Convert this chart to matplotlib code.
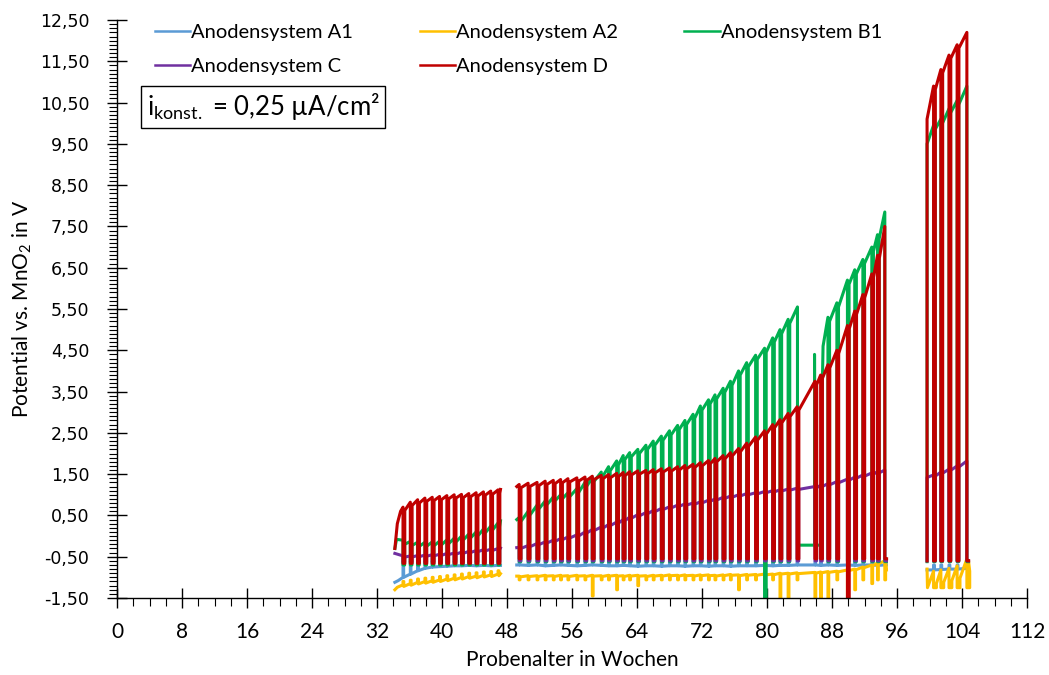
import numpy as np
import matplotlib
matplotlib.use("Agg")
import matplotlib.pyplot as plt
from matplotlib.ticker import MultipleLocator, FixedLocator, FuncFormatter

plt.rcParams["font.family"] = ["Lato", "DejaVu Sans"]
plt.rcParams["mathtext.default"] = "regular"

# ---------------------------------------------------------------- data
series_names = ["Anodensystem A1", "Anodensystem A2", "Anodensystem B1",
                "Anodensystem C", "Anodensystem D"]
series_colors = ["#5B9BD5", "#FFC000", "#00B050", "#7030A0", "#C00000"]

x_ticks = list(range(0, 113, 8))
y_ticks = [-1.5, -0.5, 0.5, 1.5, 2.5, 3.5, 4.5, 5.5, 6.5, 7.5, 8.5, 9.5,
           10.5, 11.5, 12.5]

# weeks at which the constant current was interrupted (one block per run)
drops_1 = [35.2, 36.1, 37.0, 37.9, 38.8, 39.7, 40.6, 41.5, 42.4, 43.3, 44.2,
           45.1, 46.0, 46.9]
drops_2 = [49.5, 50.6, 51.7, 52.7, 53.7, 54.6, 55.5, 56.6, 57.6, 58.5,
           59.6, 60.5, 61.5, 62.3, 63.1, 64.1, 65.1, 66.0, 67.0, 68.0,
           69.0, 69.9, 70.9, 71.8, 72.8, 73.6, 74.6, 75.5, 76.5, 77.5,
           78.6, 79.7, 80.7, 81.6, 82.6, 83.7, 85.9, 86.6, 87.5, 88.6,
           89.9, 90.8, 91.8, 92.9, 93.6, 94.5]
drops_3 = [100.5, 101.4, 102.4, 103.4, 104.6]

# potential (V) reached just before each interruption
d_peaks_1 = [0.70, 0.82, 0.88, 0.92, 0.94, 0.96, 0.98, 1.00, 1.01, 1.03,
             1.05, 1.07, 1.09, 1.12]
d_peaks_2 = [1.25, 1.28, 1.30, 1.33, 1.35, 1.37, 1.39, 1.41, 1.43, 1.45,
             1.47, 1.49, 1.52, 1.54, 1.56, 1.58, 1.59, 1.61, 1.63, 1.65,
             1.68, 1.71, 1.74, 1.78, 1.83, 1.88, 1.95, 2.02, 2.12, 2.25,
             2.40, 2.55, 2.70, 2.82, 2.97, 3.13, 3.75, 3.90, 4.15, 4.50,
             5.10, 5.45, 5.85, 6.35, 6.80, 7.50]
d_peaks_3 = [10.90, 11.30, 11.65, 11.90, 12.20]

b1_peaks_1 = [-0.10, -0.13, -0.15, -0.15, -0.14, -0.12, -0.09, -0.05, 0.00,
              0.05, 0.10, 0.17, 0.24, 0.32]
b1_peaks_2a = [0.45, 0.60, 0.75, 0.85, 0.95, 1.00, 1.05, 1.15, 1.30, 1.42,
               1.55, 1.68, 1.82, 1.95, 2.02, 2.10, 2.20, 2.30, 2.42, 2.55,
               2.68, 2.80, 2.95, 3.15, 3.30, 3.42, 3.58, 3.75, 4.00, 4.20,
               4.38, 4.55, 4.80, 5.00, 5.25]
b1_peaks_2b = [5.30, 5.65, 6.20, 6.45, 6.70, 7.00, 7.30, 7.85]
b1_peaks_3 = [9.95, 10.10, 10.35, 10.55, 10.90]

c_peaks_1 = [-0.48, -0.48, -0.47, -0.46, -0.45, -0.44, -0.42, -0.41, -0.39,
             -0.37, -0.35, -0.33, -0.32, -0.30]
c_peaks_2 = [-0.27, -0.23, -0.18, -0.14, -0.10, -0.06, -0.02, 0.03, 0.10,
             0.16, 0.22, 0.28, 0.34, 0.40, 0.46, 0.52, 0.57, 0.62, 0.67,
             0.71, 0.75, 0.78, 0.80, 0.83, 0.87, 0.90, 0.94, 0.97, 1.00,
             1.03, 1.05, 1.08, 1.10, 1.12, 1.14, 1.16, 1.20, 1.23, 1.27,
             1.32, 1.38, 1.43, 1.48, 1.53, 1.56, 1.60]
c_peaks_3 = [1.48, 1.55, 1.62, 1.70, 1.82]

a1_peaks_1 = [-1.00, -0.92, -0.84, -0.78, -0.75, -0.74, -0.73, -0.72, -0.72,
              -0.71, -0.72, -0.71, -0.72, -0.71]
a1_peaks_2 = [-0.70, -0.71, -0.70, -0.72, -0.71, -0.70, -0.71, -0.72, -0.71,
              -0.70, -0.71, -0.72, -0.72, -0.71, -0.72, -0.73, -0.72, -0.72,
              -0.73, -0.72, -0.72, -0.73, -0.72, -0.72, -0.73, -0.72, -0.72,
              -0.73, -0.72, -0.72, -0.72, -0.71, -0.72, -0.71, -0.71, -0.70,
              -0.70, -0.71, -0.70, -0.71, -0.70, -0.71, -0.70, -0.70, -0.71,
              -0.70]
a1_peaks_3 = [-0.82, -0.81, -0.80, -0.80, -0.78]

a2_peaks_1 = [-1.18, -1.15, -1.12, -1.10, -1.08, -1.06, -1.04, -1.02, -1.00,
              -0.98, -0.97, -0.95, -0.94, -0.92]
a2_lows_1 = [-1.10, -1.07, -1.04, -1.02, -1.00, -0.98, -0.96, -0.94, -0.92,
             -0.90, -0.89, -0.87, -0.86, -0.84]
a2_peaks_2 = [-0.97, -0.96, -0.96, -0.95, -0.96, -0.95, -0.96, -0.95, -0.96,
              -0.95, -0.96, -0.95, -0.95, -0.96, -0.95, -0.95, -0.96, -0.95,
              -0.95, -0.94, -0.95, -0.94, -0.95, -0.94, -0.94, -0.95, -0.94,
              -0.93, -0.94, -0.93, -0.93, -0.92, -0.92, -0.90, -0.90, -0.89,
              -0.88, -0.87, -0.86, -0.85, -0.82, -0.80, -0.75, -0.70, -0.65,
              -0.60]
a2_peaks_3 = [-0.85, -0.82, -0.78, -0.72, -0.55]

# interruptions where the potential fell further than usual
a2_deep_2 = {58.5: -1.45, 61.5: -1.30, 64.1: -1.20, 76.5: -1.30, 79.7: -1.25,
             81.6: -1.50, 82.6: -1.50, 85.9: -1.50, 86.6: -1.50, 87.5: -1.50,
             89.9: -1.50, 90.8: -1.30, 92.9: -1.15}
b1_deep_2 = {79.7: -1.50}
d_deep_2 = {89.9: -1.50}


# ---------------------------------------------------------------- helpers
def trace(lead, drops, peaks, tail, low, dip, width, deep=None):
    """Polyline of one run: lead-in points, then for every interruption the
    fall to the rest potential and the return once the current is back."""
    xs = [p[0] for p in lead]
    ys = [p[1] for p in lead]
    for i, (t, pk) in enumerate(zip(drops, peaks, strict=True)):
        lo = low[i] if isinstance(low, (list, tuple)) else low
        if deep and t in deep:
            lo = deep[t]
        xs += [t, t, t + width, t + width]
        ys += [pk, lo, lo, pk - dip]
    if tail is None:
        xs, ys = xs[:-1], ys[:-1]
    else:
        xs += [p[0] for p in tail]
        ys += [p[1] for p in tail]
    return xs, ys


def join(*runs):
    xs, ys = [], []
    for k, (rx, ry) in enumerate(runs):
        if k:
            xs.append(np.nan)
            ys.append(np.nan)
        xs += rx
        ys += ry
    return np.array(xs), np.array(ys)


def cat(*pieces):
    xs, ys = [], []
    for px, py in pieces:
        xs += px
        ys += py
    return xs, ys


a1 = join(
    trace([(34.2, -1.12), (34.6, -1.08)], drops_1, a1_peaks_1, [(47.2, -0.71)],
          -0.62, 0.0, 0.08),
    trace([(49.2, -0.70)], drops_2, a1_peaks_2, [(94.7, -0.70)],
          -0.63, 0.0, 0.08),
    trace([(99.7, -0.82)], drops_3, a1_peaks_3, [(104.8, -0.78)],
          -0.70, 0.0, 0.1),
)
a2 = join(
    trace([(34.2, -1.30), (34.5, -1.24)], drops_1, a2_peaks_1, [(47.2, -0.91)],
          a2_lows_1, 0.04, 0.1),
    trace([(49.2, -0.97)], drops_2, a2_peaks_2, [(94.7, -0.82)],
          -1.06, 0.02, 0.1, a2_deep_2),
    trace([(99.7, -0.80), (99.75, -1.25)], drops_3, a2_peaks_3, [(104.8, -0.6)],
          -1.25, 0.30, 0.35),
)
b1 = join(
    trace([(34.2, -0.30), (34.4, -0.08)], drops_1, b1_peaks_1, [(47.2, 0.37)],
          -0.70, 0.10, 0.2),
    cat(
        trace([(49.2, 0.40)], drops_2[:35], b1_peaks_2a,
              [(83.75, 5.55), (83.75, -0.22), (85.85, -0.22), (85.85, 4.40),
               (85.9, -0.22), (86.7, -0.22)],
              -0.62, 0.10, 0.2, b1_deep_2),
        trace([(86.75, 3.05), (86.9, 4.60)], drops_2[38:], b1_peaks_2b, None,
              -0.62, 0.10, 0.2),
    ),
    trace([(99.7, -0.62), (99.7, 9.50)], drops_3, b1_peaks_3, None,
          -0.62, 0.10, 0.2),
)
c = join(
    trace([(34.2, -0.42)], drops_1, c_peaks_1, [(47.2, -0.29)],
          -0.62, 0.03, 0.2),
    trace([(49.2, -0.28)], drops_2, c_peaks_2, None, -0.60, 0.03, 0.2),
    trace([(99.7, -0.60), (99.7, 1.42)], drops_3, c_peaks_3, None,
          -0.60, 0.03, 0.2),
)
d = join(
    trace([(34.2, -0.30), (34.5, 0.30), (34.9, 0.60)], drops_1, d_peaks_1,
          [(47.2, 1.13)], -0.66, 0.08, 0.22),
    trace([(49.2, 1.20)], drops_2, d_peaks_2, None, -0.55, 0.08, 0.22,
          d_deep_2),
    trace([(99.7, -0.60), (99.7, 10.10)], drops_3, d_peaks_3, None,
          -0.60, 0.08, 0.22),
)
curves = [a1, a2, b1, c, d]

# ---------------------------------------------------------------- figure
W, H = 1049, 675
fig = plt.figure(figsize=(W / 100, H / 100), dpi=100)
ax = fig.add_axes([117 / W, 1 - 598 / H, (1027 - 117) / W, (598 - 20) / H])

handles = []
for (xs, ys), name, col in zip(curves, series_names, series_colors):
    (ln,) = ax.plot(xs, ys, color=col, lw=2.2, label=name)
    handles.append(ln)

ax.set_xlim(0, 112)
ax.set_ylim(-1.5, 12.5)
for s in ("top", "right"):
    ax.spines[s].set_visible(False)
for s in ("left", "bottom"):
    ax.spines[s].set_linewidth(1.0)

ax.xaxis.set_major_locator(FixedLocator(x_ticks))
ax.xaxis.set_minor_locator(MultipleLocator(2))
ax.yaxis.set_major_locator(FixedLocator(y_ticks))
ax.yaxis.set_minor_locator(MultipleLocator(0.1))
ax.yaxis.set_major_formatter(FuncFormatter(lambda v, p: f"{v:.2f}".replace(".", ",")))

ax.tick_params(which="major", direction="inout", length=14, width=1.0)
ax.tick_params(which="minor", direction="out", length=6, width=0.8)
ax.tick_params(axis="y", which="major", pad=13, labelsize=12.5)
ax.tick_params(axis="x", which="major", pad=10, labelsize=15)
for lab in ax.get_yticklabels():
    lab.set_family(["DejaVu Sans"])

ax.set_xlabel("Probenalter in Wochen", fontsize=15, labelpad=6)
ax.set_ylabel(r"Potential vs. MnO$_{2}$ in V", fontsize=15, labelpad=4)

order = [0, 3, 1, 4, 2]
leg = ax.legend([handles[i] for i in order], [series_names[i] for i in order],
                loc="upper left", bbox_to_anchor=(155 / W, 1 - 24 / H),
                bbox_transform=fig.transFigure, ncol=3, frameon=False,
                fontsize=14.5, handlelength=1.75, handletextpad=0.05,
                columnspacing=3.3, labelspacing=0.85, borderpad=0,
                borderaxespad=0)
for ln in leg.get_lines():
    ln.set_linewidth(1.8)

fig.text(147 / W, 1 - 107 / H, r"i$_{konst.}$ = 0,25 µA/cm²", fontsize=18.5,
         ha="left", va="center",
         bbox=dict(boxstyle="square,pad=0.22", fc="white", ec="black", lw=1.0))

fig.savefig("out.png", dpi=100)
